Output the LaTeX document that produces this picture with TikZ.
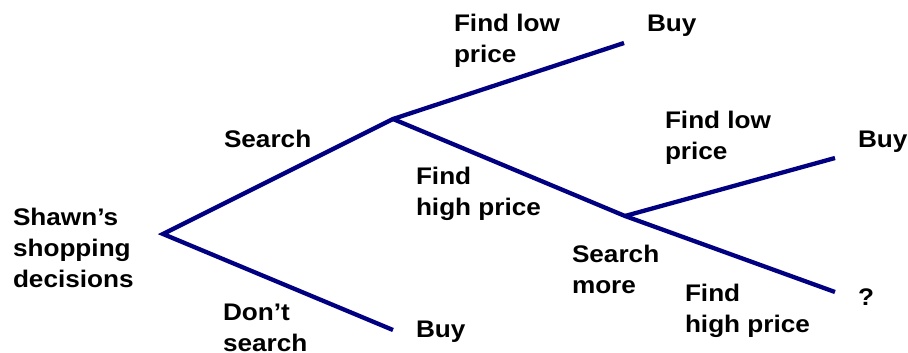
\documentclass[tikz,border=0pt]{standalone}
\usepackage{fontspec}
\setmainfont{Liberation Sans}[FakeStretch=1.09]
\definecolor{treeblue}{RGB}{0,0,128}
\begin{document}
\begin{tikzpicture}[x=1pt,y=-1pt,
  branch/.style={draw=treeblue,line width=4.3pt,line join=miter,line cap=butt},
  lbl/.style={anchor=base west,inner sep=0pt,outer sep=0pt,align=left,
    font=\fontsize{24}{31}\selectfont\bfseries}]
\useasboundingbox (0,0) rectangle (908,353);
\coordinate (root) at (163,234);
\coordinate (s1) at (393,119);
\coordinate (buy1) at (624,43);
\coordinate (bot) at (393,330);
\coordinate (mid) at (625,216);
\coordinate (buy2) at (835,158);
\coordinate (qend) at (835,292);
\path[branch] (buy1) -- (s1) -- (root) -- (bot);
\path[branch] (s1) -- (mid) -- (qend);
\path[branch] (mid) -- (buy2);
% base anchor of a multi-line node is the baseline of its last line
\node[lbl] (shawn) at (13,287) {Shawn’s\\shopping\\decisions};
\node[lbl] (search) at (224,147) {Search};
\node[lbl] (dont) at (223,351) {Don’t\\search};
\node[lbl] (buyb) at (416,337) {Buy};
\node[lbl] (flp1) at (454,63) {Find low\\price};
\node[lbl] (buyt) at (647,32) {Buy};
\node[lbl] (fhp1) at (416,215) {Find\\high price};
\node[lbl] (flp2) at (665,159) {Find low\\price};
\node[lbl] (buyr) at (858,147) {Buy};
\node[lbl] (smore) at (572,293) {Search\\more};
\node[lbl] (fhp2) at (685,332) {Find\\high price};
\node[lbl] (qm) at (858,305) {?};
\end{tikzpicture}
\end{document}
